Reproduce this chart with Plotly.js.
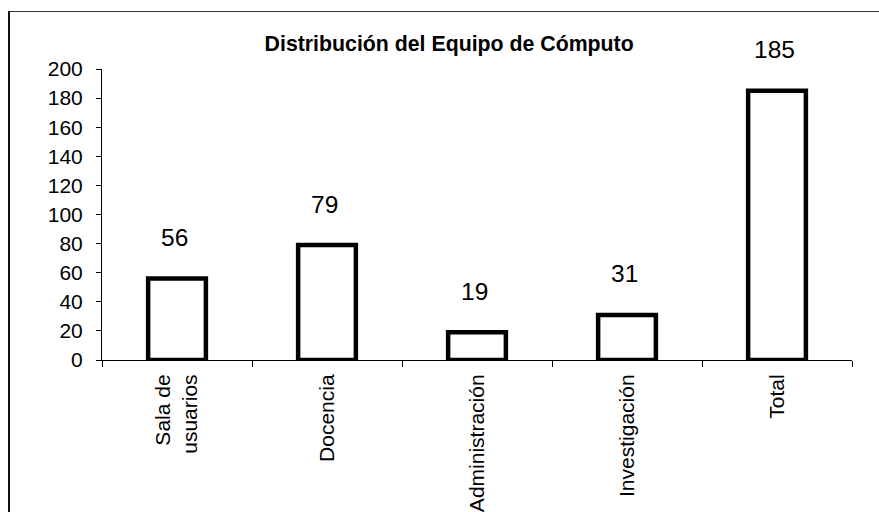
<!DOCTYPE html>
<html>
<head>
<meta charset="utf-8">
<script src="https://cdn.plot.ly/plotly-3.0.1.min.js"></script>
<style>
  html, body { margin: 0; padding: 0; background: #fff; }
  #wrap { position: relative; width: 879px; height: 512px; overflow: hidden; }
  #chart { position: absolute; left: 0; top: 0; width: 879px; height: 512px; }
  #frame { position: absolute; left: 8px; top: 11px; width: 900px; height: 600px;
           border-left: 2px solid #111; border-top: 1.5px solid #333; pointer-events: none; }
</style>
</head>
<body>
<div id="wrap">
  <div id="chart"></div>
  <div id="frame"></div>
</div>
<script>
const categories = ["Sala de<br>usuarios", "Docencia", "Administración", "Investigación", "Total"];
const values = [56, 79, 19, 31, 185];
const yTicks = [0, 20, 40, 60, 80, 100, 120, 140, 160, 180, 200];
const chartTitle = "Distribución del Equipo de Cómputo";

const FONT = "Liberation Sans, Arial, sans-serif";

const trace = {
  type: "bar",
  x: categories,
  y: values,
  width: 0.385,
  marker: { color: "#ffffff", line: { color: "#000000", width: 4.5 } },
  hoverinfo: "none"
};

const annotations = categories.map((c, i) => ({
  x: c, y: values[i], xref: "x", yref: "y",
  text: String(values[i]), showarrow: false,
  yanchor: "middle", yshift: 41, xshift: -3,
  font: { family: FONT, size: 24.5, color: "#000" }
}));

const layout = {
  width: 879, height: 512,
  margin: { l: 102, r: 27, t: 69, b: 152 },
  paper_bgcolor: "rgba(0,0,0,0)",
  plot_bgcolor: "rgba(0,0,0,0)",
  showlegend: false,
  title: {
    text: "<b>" + chartTitle + "</b>",
    x: 0.511, xref: "container", xanchor: "center",
    y: 1 - 44 / 512, yref: "container", yanchor: "middle",
    font: { family: FONT, size: 21.3, color: "#000" }
  },
  xaxis: {
    type: "category",
    showline: true, linecolor: "#000", linewidth: 1,
    ticks: "outside", tickson: "boundaries", ticklen: 6, tickcolor: "#000", tickwidth: 1,
    tickangle: -90, ticklabelstandoff: 5,
    tickfont: { family: FONT, size: 21, color: "#000" },
    showgrid: false, zeroline: false, fixedrange: true
  },
  yaxis: {
    range: [0, 200],
    tickmode: "array", tickvals: yTicks, ticktext: yTicks.map(String),
    showline: true, linecolor: "#000", linewidth: 1,
    ticks: "outside", ticklen: 5, tickcolor: "#000", tickwidth: 1,
    ticklabelstandoff: 9,
    tickfont: { family: FONT, size: 21, color: "#000" },
    showgrid: false, zeroline: false, fixedrange: true
  },
  annotations: annotations
};

Plotly.newPlot("chart", [trace], layout, { displayModeBar: false, staticPlot: true });
</script>
</body>
</html>
